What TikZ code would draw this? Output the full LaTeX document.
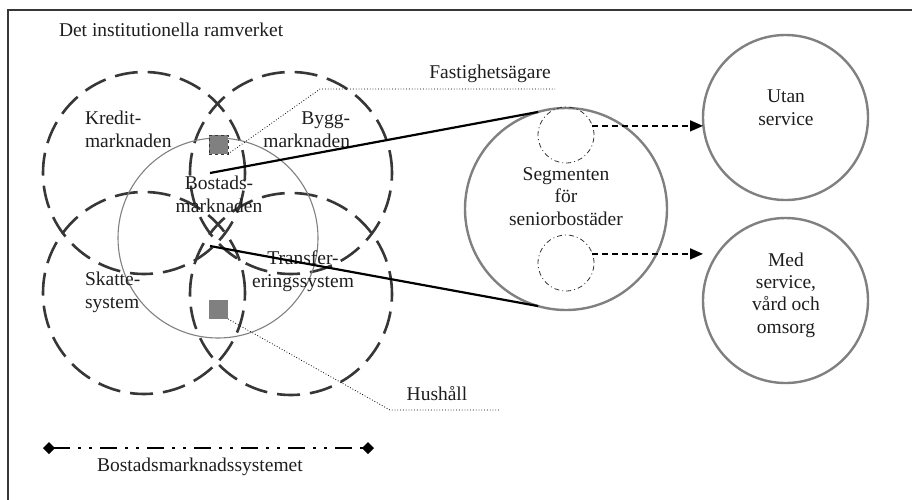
\documentclass[tikz,border=0pt]{standalone}
\usepackage{fontspec}
\setmainfont{Liberation Serif}
\usetikzlibrary{arrows.meta}
\definecolor{ringdark}{RGB}{55,55,55}
\definecolor{ringgray}{RGB}{128,128,128}
\definecolor{boxgray}{RGB}{128,128,128}
\definecolor{inkgray}{RGB}{30,30,30}
\begin{document}
\begin{tikzpicture}[x=1pt,y=-1pt,
  every node/.style={font=\fontsize{19.5}{22.3}\selectfont, text=inkgray, inner sep=0pt, outer sep=0pt},
  lbl/.style={align=#1, anchor=base},
  market/.style={circle, draw=ringdark, line width=2.6pt, dash pattern=on 23pt off 10pt, minimum size=202pt},
  core/.style={circle, draw=ringgray, line width=1.1pt, minimum size=200pt},
  segring/.style={circle, draw=ringgray, line width=2.4pt, minimum size=202pt},
  outring/.style={circle, draw=ringgray, line width=2.4pt, minimum size=165pt},
  subring/.style={circle, draw=ringdark, line width=0.8pt, dash pattern=on 5pt off 3pt on 1pt off 3pt, minimum size=56pt},
  actor/.style={rectangle, fill=boxgray, minimum size=19pt},
  leader/.style={draw=black, line width=0.8pt, dotted},
  zoomline/.style={draw=black, line width=2.2pt},
  flow/.style={draw=black, line width=1.5pt, dash pattern=on 6pt off 4pt, -{Triangle[length=13pt,width=11pt]}},
  scale bar/.style={draw=black, line width=2.4pt, dash pattern=on 17pt off 8pt on 3pt off 8pt on 3pt off 8pt,
                    {Diamond[length=12pt,width=12pt]}-{Diamond[length=12pt,width=12pt]}}
]
\useasboundingbox (0,0) rectangle (912,499);

% frame of the institutional setting
\draw[ringdark, line width=1.6pt] (8,499.5) -- (8,10) -- (912.5,10);
\node[anchor=base west] (title) at (59,36.5) {Det institutionella ramverket};

% the four surrounding markets and systems
\node[market] (kredit)   at (144,173) {};
\node[market] (bygg)     at (291,173) {};
\node[market] (skatt)    at (144,293) {};
\node[market] (transfer) at (291,294) {};

% the housing market in the middle
\node[core] (bostad) at (218,238) {};

% actors: property owners and households
\node[actor, draw=ringdark, line width=1pt, dashed] (owner) at (218.5,144.5) {};
\node[actor] (household) at (218.5,309.5) {};

% labels of the markets (anchored at the baseline of the last line)
\node[lbl=left, anchor=base west] (lkredit) at (85,147) {Kredit-\\marknaden};
\node[lbl=right, anchor=base east] (lbygg) at (350,147) {Bygg-\\marknaden};
\node[lbl=center] (lbostad) at (219,212) {Bostads-\\marknaden};
\node[lbl=left, anchor=base west] (lskatt) at (85,308) {Skatte-\\system};
\node[lbl=center] (ltransfer) at (303,287) {Transfer-\\eringssystem};

% leaders to the actor names
\coordinate (fbend) at (320,89);
\coordinate (fend) at (555,89);
\draw[leader] (owner.south east) -- (fbend) -- (fend);
\node[anchor=base] (lowner) at (490,78) {Fastighetsägare};

\coordinate (hbend) at (390,410);
\coordinate (hend) at (500,410);
\draw[leader] (household.south east) -- (hbend) -- (hend);
\node[anchor=base] (lhousehold) at (437,400) {Hushåll};

% segments for senior housing, enlarged
\node[segring] (seg) at (566,209) {};
\node[lbl=center] (lseg) at (566,225) {Segmenten\\för\\seniorbostäder};
\coordinate (za) at (210,173);
\coordinate (zb) at (210,246);
\draw[zoomline] (za) -- (seg.106);
\draw[zoomline] (zb) -- (seg.254);

\node[subring] (suba) at (566,135) {};
\node[subring] (subb) at (566,263) {};

% the two kinds of senior housing
\node[outring] (utan) at (785.5,117.5) {};
\node[lbl=center] (lutan) at (786,125) {Utan\\service};
\node[outring] (med) at (785.5,300.5) {};
\node[lbl=center] (lmed) at (786,333) {Med\\service,\\vård och\\omsorg};

\draw[flow] (suba.19) -- (suba.19 -| utan.west);
\draw[flow] (subb.19) -- (subb.19 -| med.west);

% extent of the housing market system
\coordinate (sa) at (43,448);
\coordinate (sb) at (374,448);
\draw[scale bar] (sa) -- (sb);
\node[anchor=base west] (lsystem) at (97,471) {Bostadsmarknadssystemet};
\end{tikzpicture}
\end{document}
